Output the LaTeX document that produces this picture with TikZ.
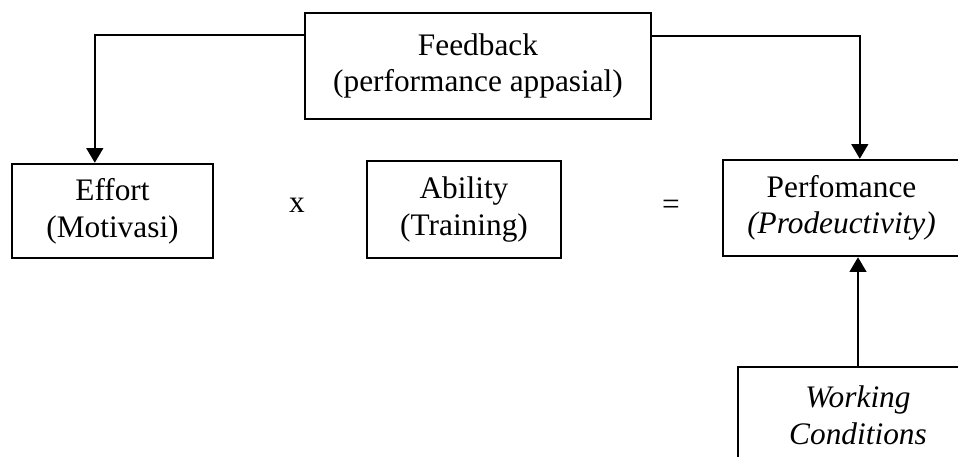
\documentclass[tikz,border=0pt]{standalone}
\usepackage{fontspec}
\setmainfont{Liberation Serif}
\usetikzlibrary{arrows.meta,calc}

\tikzset{
  txt/.style={font=\fontsize{23.5}{27.5}\selectfont, align=center, inner sep=0pt},
  box/.style={txt, draw, line width=1.8pt, rectangle},
  conn/.style={line width=1.6pt, -{Triangle[width=12.5pt,length=11pt]}},
}

\begin{document}
\begin{tikzpicture}[x=0.75pt, y=-0.75pt]
  \useasboundingbox (0,0) rectangle (958,457);
  \clip (0,0) rectangle (958,457);

  % top box
  \node[box, minimum width=259.5pt, minimum height=79.5pt] (fb) at (478,66)
    {Feedback\\(performance appasial)};

  % middle row
  \node[box, minimum width=150.75pt, minimum height=70.5pt] (effort) at (112.5,211)
    {Effort\\(Motivasi)};
  \node[txt] (times) at (297,205) {x};
  \node[box, minimum width=145.5pt, minimum height=72.75pt] (ability) at (464,209.5)
    {Ability\\(Training)};
  \node[txt] (eq) at (671,207) {=};
  \node[box, minimum width=177.75pt, minimum height=72pt] (perf) at (841.5,208)
    {Perfomance\\\textit{(Prodeuctivity)}};

  % bottom box
  \node[box, minimum width=180pt, minimum height=72pt] (wc) at (858,415)
    {\textit{Working}\\\textit{Conditions}};

  % connectors
  \draw[conn] ($(fb.north west)+(0,23)$) -| ($(effort.north west)+(84,0)$);
  \draw[conn] ($(fb.north east)+(0,24)$) -| ($(perf.north west)+(138,0)$);
  \draw[conn] (wc.north) -- (wc.north |- perf.south);
\end{tikzpicture}
\end{document}
